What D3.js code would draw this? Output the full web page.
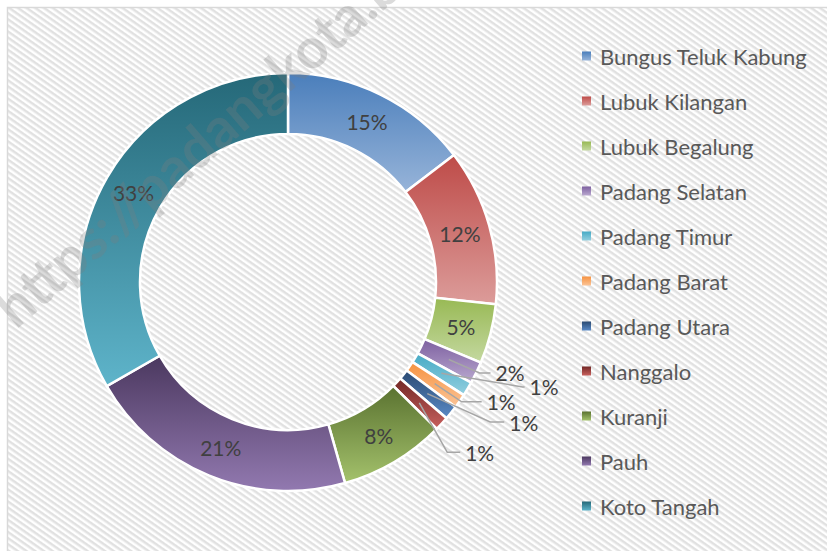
<!DOCTYPE html>
<html>
<head>
<meta charset="utf-8">
<script src="https://cdn.jsdelivr.net/npm/d3@7"></script>
<style>
  body { margin: 0; background: #fff; }
  svg { display: block; }
  text { font-family: Lato, "Noto Sans", sans-serif; }
</style>
</head>
<body>
<svg width="827" height="551"></svg>
<script>
const kecamatan = ["Bungus Teluk Kabung", "Lubuk Kilangan", "Lubuk Begalung", "Padang Selatan",
  "Padang Timur", "Padang Barat", "Padang Utara", "Nanggalo", "Kuranji", "Pauh", "Koto Tangah"];
const share = [14.6, 12.1, 4.6, 1.7, 1.1, 1.1, 1.1, 1.1, 8.2, 21.1, 33.3];
const topColors = ["#4a7ebb", "#be4b48", "#98b954", "#7d60a0", "#46aac5", "#f69240",
  "#2a4a72", "#722826", "#5a7230", "#4b385f", "#256878"];
const bottomColors = ["#97b4d9", "#dc9c9a", "#c4d8a0", "#b9a8cf", "#93cfdf", "#fbc497",
  "#5a8ac6", "#c8605d", "#a4c26c", "#9279b0", "#5eb4ca"];

// thin slices get their label outside, on a bent leader line
const calloutIdx = [3, 4, 5, 6, 7];
const calloutAngle = [115.4, 114.1, 124.6, 124.7, 136.9];
const calloutRadius = [212, 257, 211, 246, 233];
const calloutTail = [11, 2, 20, 14, 13];

const svg = d3.select("svg");
const cx = 288, cy = 282;
const outerR = 209, innerR = 148;

const data = kecamatan.map((name, i) => ({ name, value: share[i], i }));
const total = d3.sum(share);
const pct = d3.format(".0%");

const defs = svg.append("defs");

// striped chart background
const pat = defs.append("pattern")
  .attr("id", "stripes")
  .attr("patternUnits", "userSpaceOnUse")
  .attr("width", 5).attr("height", 5)
  .attr("patternTransform", "rotate(35)");
pat.append("rect").attr("width", 5).attr("height", 5).attr("fill", "#ffffff");
pat.append("rect").attr("width", 5).attr("height", 2.5).attr("fill", "#e1e1e1");

// vertical gradient per series
data.forEach(d => {
  const g = defs.append("linearGradient")
    .attr("id", "grad" + d.i)
    .attr("x1", 0).attr("y1", 0).attr("x2", 0).attr("y2", 1);
  g.append("stop").attr("offset", "0%").attr("stop-color", topColors[d.i]);
  g.append("stop").attr("offset", "100%").attr("stop-color", bottomColors[d.i]);
});

svg.append("rect")
  .attr("x", 7.5).attr("y", 7.5)
  .attr("width", 840).attr("height", 560)
  .attr("fill", "url(#stripes)")
  .attr("stroke", "#d9d9d9")
  .attr("stroke-width", 1.5);

const pie = d3.pie().sort(null).value(d => d.value);
const arc = d3.arc().innerRadius(innerR).outerRadius(outerR);
const arcs = pie(data);

const donut = svg.append("g").attr("transform", `translate(${cx},${cy})`);

donut.selectAll("path.slice")
  .data(arcs)
  .join("path")
  .attr("class", "slice")
  .attr("d", arc)
  .attr("fill", d => `url(#grad${d.data.i})`)
  .attr("stroke", "#ffffff")
  .attr("stroke-width", 2.5);

// labels inside the ring
donut.selectAll("text.inside")
  .data(arcs.filter(d => !calloutIdx.includes(d.data.i)))
  .join("text")
  .attr("class", "inside")
  .attr("transform", d => `translate(${arc.centroid(d)})`)
  .attr("text-anchor", "middle")
  .attr("dominant-baseline", "central")
  .attr("font-size", 21)
  .attr("fill", "#404040")
  .text(d => pct(d.data.value / total));

// callouts
const polar = (deg, r) => {
  const a = deg * Math.PI / 180;
  return [r * Math.sin(a), -r * Math.cos(a)];
};

calloutIdx.forEach((idx, k) => {
  const d = arcs[idx];
  const start = arc.centroid(d);
  const elbow = polar(calloutAngle[k], calloutRadius[k]);
  const end = [elbow[0] + calloutTail[k], elbow[1]];
  donut.append("path")
    .attr("d", d3.line()([start, elbow, end]))
    .attr("fill", "none")
    .attr("stroke", "#a6a6a6")
    .attr("stroke-width", 1.5);
  donut.append("text")
    .attr("x", end[0] + 5)
    .attr("y", end[1])
    .attr("dominant-baseline", "central")
    .attr("font-size", 21)
    .attr("fill", "#404040")
    .text(pct(d.data.value / total));
});

// legend
const legendY = d3.scalePoint().domain(kecamatan).range([56, 506]);
const legend = svg.append("g")
  .selectAll("g")
  .data(data)
  .join("g")
  .attr("transform", d => `translate(582,${legendY(d.name)})`);

legend.append("rect")
  .attr("x", 0).attr("y", -4.5)
  .attr("width", 9).attr("height", 9)
  .attr("fill", d => `url(#grad${d.i})`);

legend.append("text")
  .attr("x", 18)
  .attr("dominant-baseline", "central")
  .attr("font-size", 22)
  .attr("fill", "#595959")
  .text(d => d.name);

// watermark
svg.append("text")
  .attr("transform", "translate(16,330) rotate(-41)")
  .attr("font-family", "'Liberation Sans', Arial, sans-serif")
  .attr("font-weight", "bold")
  .attr("font-size", 56)
  .attr("fill", "#7f7f7f")
  .attr("fill-opacity", 0.28)
  .text("https://padangkota.bps.go.id");
</script>
</body>
</html>
